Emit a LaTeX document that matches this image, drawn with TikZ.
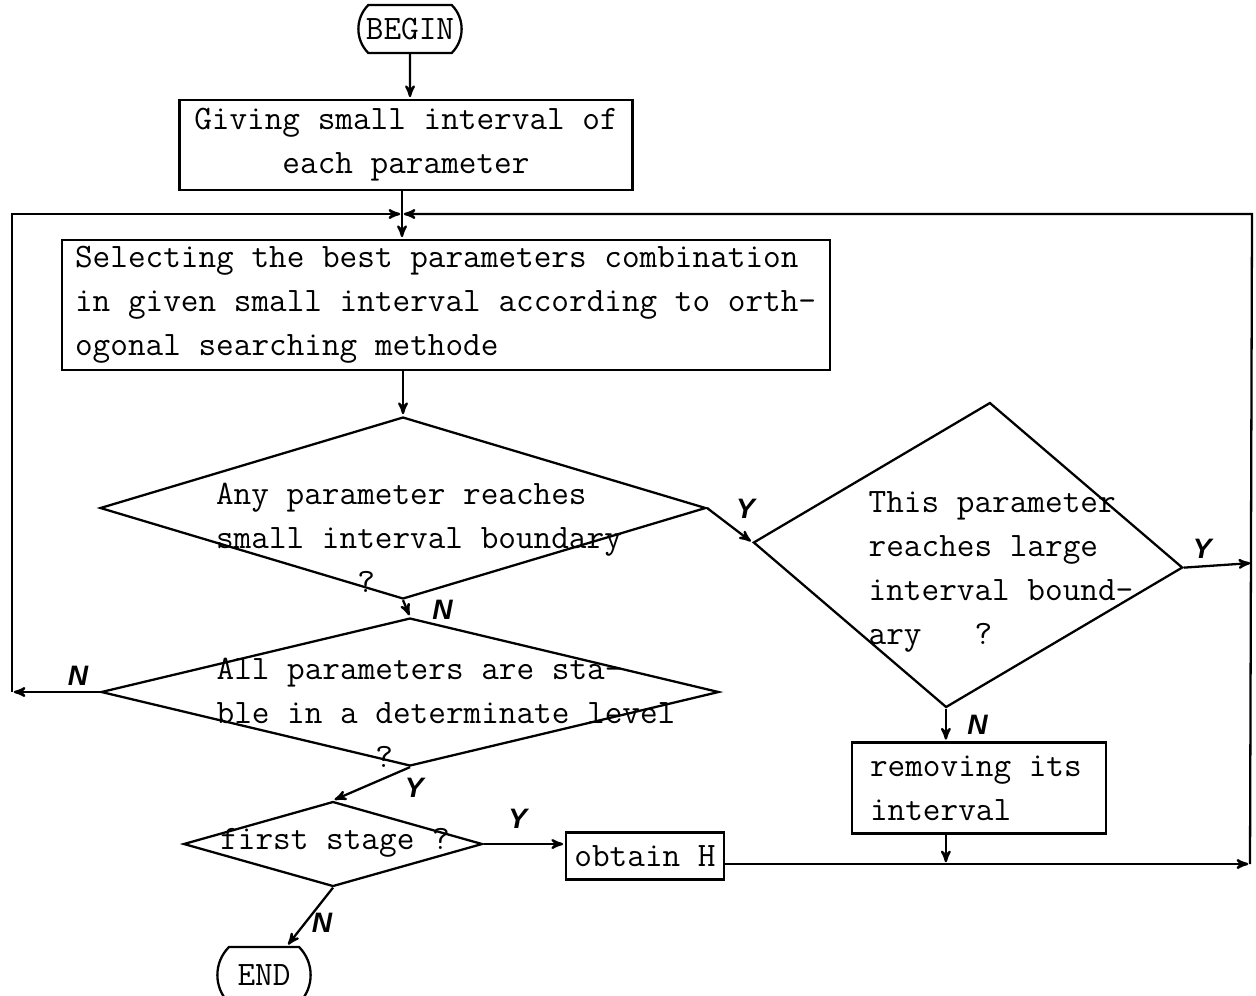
\documentclass[tikz,border=0pt]{standalone}
\usepackage{fontspec}
\newfontfamily\ynfont{Liberation Sans}
\usepackage{tikz}
\usetikzlibrary{arrows,shapes.geometric,shapes.misc}

\begin{document}
\begin{tikzpicture}[->,>=stealth',shorten >=1pt,auto,x=0.02cm,y=-0.02cm,
                    line width=1.3pt,font=\ttfamily\fontsize{19.5}{25}\selectfont]

  \tikzstyle{terminal}=[rounded rectangle,rounded rectangle arc length=90,draw]
  \tikzstyle{process}=[rectangle,draw,align=left,execute at begin node={\spaceskip 0pt\relax}]
  \tikzstyle{decision}=[diamond,draw,inner sep=0pt]
  \tikzstyle{question}=[align=left,inner sep=0pt]
  \tikzstyle{yn}=[font=\ynfont\bfseries\itshape\fontsize{16}{16}\selectfont,inner sep=3pt]

  \useasboundingbox (0,0) rectangle (1256,995);

  \node[terminal,minimum width=2.3cm,minimum height=0.96cm] (begin) at (410,29) {BEGIN};
  \node[process,align=center,minimum width=9.06cm,minimum height=1.8cm] (give) at (406,145)
       {Giving small interval of\\each parameter};
  \node[process,text width=14.84cm,inner xsep=0.26cm,minimum height=2.6cm] (select) at (446,305)
       {Selecting the best parameters combination\\in given small interval according to orth-\\ogonal searching methode};

  \node[decision,minimum width=12.12cm,minimum height=3.64cm] (any) at (403,508) {};
  \node[question] at (419,538) {Any parameter reaches\\small interval boundary\\\mbox{}\ \ \ \ \ \ \ \ ?};

  \node[decision,minimum width=12.36cm,minimum height=2.96cm] (all) at (410,692) {};
  \node[question] at (446,713) {All parameters are sta-\\ble in a determinate level\\\mbox{}\ \ \ \ \ \ \ \ \ ?};

  \node[decision,minimum width=8.66cm,minimum height=6.1cm,xslant=0.144,yslant=-0.058] (large) at (968,555) {};
  \node[question] at (1001,572) {This parameter\\reaches large\\interval bound-\\ary\ \ \ ?};

  \node[process,text width=4.36cm,inner xsep=0.36cm,minimum height=1.82cm] (remove) at (979,788)
       {removing its\\interval};

  \node[decision,minimum width=5.98cm,minimum height=1.7cm] (first) at (333,844) {};
  \node[question] at (335,843) {first stage ?};
  \node[process,minimum width=3.16cm,minimum height=0.94cm] (obtain) at (645,856) {obtain H};
  \node[terminal,minimum width=2.1cm,minimum height=1.12cm] (end) at (264,975) {END};

  \coordinate (j)  at (402,214);
  \coordinate (tl) at (12,214);
  \coordinate (lc) at (12,692);
  \coordinate (tr) at (1252,214);
  \coordinate (rc) at (1252,563);
  \coordinate (rb) at (1250,864);

  \path (begin) edge (begin |- give.north)
        (give.south -| j) edge (j |- select.north)
        (select.south -| any.north) edge (any.north)
        (any.east) edge node[yn] {Y} (large.west)
        (any.south) edge node[yn,pos=0.55,anchor=west,xshift=0.38cm] {N} (all.north)
        (all.west) edge node[yn,swap,pos=0.25] {N} (lc)
        (all.south) edge node[yn,pos=0.15,anchor=north west] {Y} (first.north)
        (first.east) edge node[yn,pos=0.42,yshift=0.18cm] {Y} (first.east -| obtain.west)
        (first.south) edge node[yn,pos=0.6,anchor=west] {N} (end)
        (large.south) edge node[yn,anchor=west,xshift=0.3cm] {N} (large.south |- remove.north)
        (large.east) edge node[yn] {Y} (rc)
        (large.south |- remove.south) edge (large.south |- rb)
        (obtain.east |- rb) edge (rb);
  \draw (lc) -- (tl) -- (j);
  \draw (rb) -- (tr) -- (j);
\end{tikzpicture}
\end{document}
